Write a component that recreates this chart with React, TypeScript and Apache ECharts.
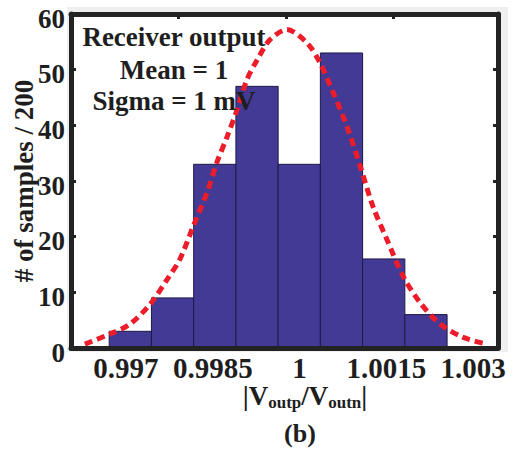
import React, { useEffect, useRef } from "react";
import * as echarts from "echarts";

// ---- data ----
const binEdges = [0.99671, 0.99744, 0.99817, 0.9989, 0.99963, 1.00036, 1.00109, 1.00182, 1.00255];
const binCounts = [3, 9, 33, 47, 33, 53, 16, 6];

const fitX = [
  0.99629, 0.99672, 0.99707, 0.99742, 0.99771, 0.99793, 0.99816, 0.9984, 0.99857, 0.99875,
  0.99892, 0.99909, 0.99927, 0.99949, 0.99978, 1.00013, 1.00035, 1.00058, 1.00082, 1.00105,
  1.00127, 1.00151, 1.00179, 1.00208, 1.00243, 1.00283, 1.00324,
];
const fitY = [
  0.7, 2.5, 4.3, 7.9, 12.3, 15.9, 21.8, 27.9, 33.3, 38.0,
  42.8, 48.2, 51.8, 55.4, 57.2, 54.8, 51.3, 45.9, 39.8, 32.6,
  25.4, 19.5, 12.9, 8.2, 4.3, 1.9, 0.7,
];

const xTickLabels = [0.997, 0.9985, 1, 1.0015, 1.003];
const topTickValues = [0.9979, 0.99977, 1.00162];
const xMin = 0.99605;
const xMax = 1.00343;
const yMin = 0;
const yMax = 60;
const yInterval = 10;

const annotationLines = ["Receiver output", "Mean = 1", "Sigma = 1 mV"];
const yAxisTitle = "# of samples / 200";
const panelLabel = "(b)";

const FONT = '"Liberation Serif", "Times New Roman", serif';
const TEXT = "#1e1e1e";
const FRAME = "#232323";
const BAR = "#433a96";
const CURVE = "#ec1c2a";

export default function App() {
  const ref = useRef<HTMLDivElement>(null);

  useEffect(() => {
    if (!ref.current) return;
    const chart = echarts.init(ref.current, undefined, { renderer: "svg" });

    const barData = binCounts.map((c, i) => [binEdges[i], binEdges[i + 1], c]);
    const fitData = fitX.map((x, i) => [x, fitY[i]]);

    const frameLine = { show: true, onZero: false, lineStyle: { color: FRAME, width: 5 } };

    const option: any = {
      animation: false,
      backgroundColor: "#ffffff",
      grid: {
        left: 71,
        right: 16,
        top: 14,
        bottom: 101,
        containLabel: false,
        outerBoundsMode: "none",
        show: true,
        backgroundColor: "#ffffff",
        borderWidth: 0,
      },
      xAxis: [
        {
          type: "value",
          position: "bottom",
          min: xMin,
          max: xMax,
          z: 10,
          axisLine: frameLine,
          axisTick: { show: false },
          splitLine: { show: false },
          axisLabel: {
            customValues: xTickLabels,
            formatter: (v: number) => String(+v.toFixed(4)),
            fontSize: 29,
            fontWeight: "bold",
            fontFamily: FONT,
            color: TEXT,
            margin: 5,
          },
          name: "{m||V}{s|outp}{m|/V}{s|outn}{m||}",
          nameLocation: "middle",
          nameGap: 33,
          nameMoveOverlap: false,
          nameTextStyle: {
            padding: [0, 0, 0, 41],
            rich: {
              m: { fontSize: 27, fontWeight: "bold", fontFamily: FONT, color: TEXT, lineHeight: 30 },
              s: {
                fontSize: 17,
                fontWeight: "bold",
                fontFamily: FONT,
                color: TEXT,
                lineHeight: 22,
                verticalAlign: "bottom",
              },
            },
          },
        },
        {
          type: "value",
          position: "top",
          min: xMin,
          max: xMax,
          z: 10,
          axisLine: frameLine,
          axisTick: {
            show: true,
            inside: true,
            length: 5,
            customValues: topTickValues,
            lineStyle: { color: FRAME, width: 3 },
          },
          axisLabel: { show: false },
          splitLine: { show: false },
        },
      ],
      yAxis: [
        {
          type: "value",
          position: "left",
          min: yMin,
          max: yMax,
          interval: yInterval,
          z: 10,
          axisLine: frameLine,
          axisTick: { show: true, inside: true, length: 5, lineStyle: { color: FRAME, width: 3 } },
          splitLine: { show: false },
          axisLabel: {
            margin: 6,
            formatter: (v: number) => `{a|${v}}`,
            rich: {
              a: {
                fontSize: 27,
                fontWeight: "bold",
                fontFamily: FONT,
                color: TEXT,
                padding: [9, 0, 0, 0],
              },
            },
          },
          name: yAxisTitle,
          nameLocation: "middle",
          nameRotate: 90,
          nameGap: 33,
          nameMoveOverlap: false,
          nameTextStyle: { fontSize: 27, fontWeight: "bold", fontFamily: FONT, color: TEXT, lineHeight: 28 },
        },
        {
          type: "value",
          position: "right",
          min: yMin,
          max: yMax,
          interval: yInterval,
          z: 10,
          axisLine: frameLine,
          axisTick: { show: true, inside: true, length: 5, lineStyle: { color: FRAME, width: 3 } },
          splitLine: { show: false },
          axisLabel: { show: false },
        },
      ],
      series: [
        {
          type: "custom",
          xAxisIndex: 0,
          yAxisIndex: 0,
          z: 2,
          encode: { x: [0, 1], y: 2 },
          data: barData,
          renderItem: (params: any, api: any) => {
            const p0 = api.coord([api.value(0), api.value(2)]);
            const p1 = api.coord([api.value(1), 0]);
            return {
              type: "rect",
              shape: { x: p0[0], y: p0[1], width: p1[0] - p0[0], height: p1[1] - p0[1] },
              style: { fill: BAR, stroke: "#1c1a45", lineWidth: 1 },
            };
          },
        },
        {
          type: "line",
          xAxisIndex: 0,
          yAxisIndex: 0,
          z: 5,
          data: fitData,
          smooth: 0.3,
          showSymbol: false,
          symbol: "none",
          lineStyle: { color: CURVE, width: 5, type: [8, 5], cap: "butt" },
        },
      ],
      graphic: [
        {
          type: "rect",
          z: -100,
          shape: { x: 67, y: 7, width: 441, height: 345 },
          style: { fill: "#efefef" },
        },
        ...annotationLines.map((t, i) => ({
          type: "text",
          z: 100,
          x: 174,
          y: [37, 70, 101][i],
          style: {
            text: t,
            fill: TEXT,
            font: `bold 27px ${FONT}`,
            textAlign: "center",
            textVerticalAlign: "middle",
          },
        })),
        {
          type: "text",
          z: 100,
          x: 300,
          y: 433,
          style: {
            text: panelLabel,
            fill: TEXT,
            font: `bold 26px ${FONT}`,
            textAlign: "center",
            textVerticalAlign: "middle",
          },
        },
      ],
    };

    chart.setOption(option);
    return () => chart.dispose();
  }, []);

  return (
    <div
      ref={ref}
      style={{ position: "fixed", left: 0, top: 0, width: 514, height: 449, background: "#fff" }}
    />
  );
}
